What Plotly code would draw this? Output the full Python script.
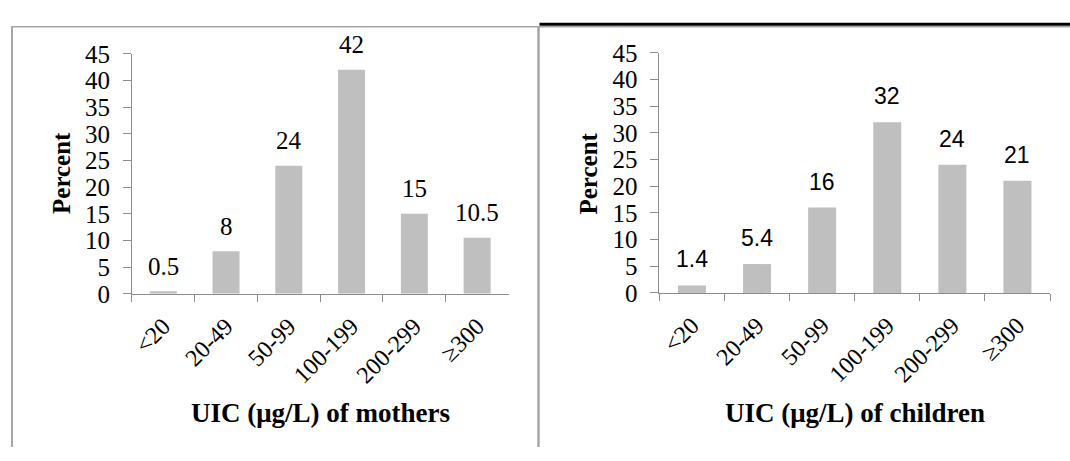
import plotly.graph_objects as go

categories = ["<20", "20-49", "50-99", "100-199", "200-299", "≥300"]
mothers = [0.5, 8, 24, 42, 15, 10.5]
children = [1.4, 5.4, 16, 32, 24, 21]
y_ticks = [0, 5, 10, 15, 20, 25, 30, 35, 40, 45]
x_title_left = "UIC (μg/L) of mothers"
x_title_right = "UIC (μg/L) of children"
y_title = "Percent"

W, H = 1070, 461
def px(x):
    return x / W
def py(y):
    return 1 - y / H

SERIF = "Liberation Serif, Times New Roman, serif"
SANS = "Liberation Sans, Arial, sans-serif"
BAR = "#BFBFBF"
AXIS = "#8C8C8C"
BORDER = "#A6A6A6"

fig = go.Figure()
fig.add_trace(go.Bar(x=categories, y=mothers, xaxis="x", yaxis="y",
                     marker=dict(color=BAR, line=dict(width=0)), width=0.43,
                     showlegend=False, hoverinfo="skip"))
fig.add_trace(go.Bar(x=categories, y=children, xaxis="x2", yaxis="y2",
                     marker=dict(color=BAR, line=dict(width=0)), width=0.43,
                     showlegend=False, hoverinfo="skip"))

tickfont = dict(family=SERIF, size=25, color="black")
catfont = dict(family=SERIF, size=24, color="black")

def xax(domain, anchor):
    return dict(domain=domain, anchor=anchor, type="category", tickson="boundaries",
                ticks="outside", ticklen=7, tickcolor=AXIS, showline=True,
                linecolor=AXIS, linewidth=1, tickangle=-45, tickfont=catfont,
                showgrid=False, zeroline=False, fixedrange=True, ticklabelstandoff=8)

def yax(domain, anchor):
    return dict(domain=domain, anchor=anchor, range=[0, 45], tickvals=y_ticks,
                ticks="outside", ticklen=8, tickcolor=AXIS, showline=True,
                linecolor=AXIS, linewidth=1, tickfont=tickfont, showgrid=False,
                zeroline=False, ticklabelstandoff=8, fixedrange=True)

fig.update_layout(
    width=W, height=H, margin=dict(l=0, r=0, t=0, b=0),
    paper_bgcolor="white", plot_bgcolor="white",
    xaxis=xax([px(131), px(508)], "y"),
    yaxis=yax([py(298.3), py(43.3)], "x"),
    xaxis2=xax([px(659), px(1050)], "y2"),
    yaxis2=yax([py(297.3), py(42.3)], "x2"),
    bargap=0.57,
)

anns = []
for c, v in zip(categories, mothers):
    anns.append(dict(x=c, y=v, xref="x", yref="y", text=str(v), showarrow=False,
                     yanchor="middle", yshift=25, font=dict(family=SERIF, size=25, color="black")))
for c, v in zip(categories, children):
    anns.append(dict(x=c, y=v, xref="x2", yref="y2", text=str(v), showarrow=False,
                     yanchor="middle", yshift=26, font=dict(family=SANS, size=23, color="black")))
title_font = dict(family=SERIF, size=25, color="black")
xtitle_font = dict(family=SERIF, size=27, color="black")
anns.append(dict(x=px(60), y=py(170), xref="paper", yref="paper", text="<b>%s</b>" % y_title,
                 textangle=-90, showarrow=False, xanchor="center", yanchor="middle", font=title_font))
anns.append(dict(x=px(588), y=py(170), xref="paper", yref="paper", text="<b>%s</b>" % y_title,
                 textangle=-90, showarrow=False, xanchor="center", yanchor="middle", font=title_font))
anns.append(dict(x=px(319.5), y=py(425), xref="paper", yref="paper", text="<b>%s</b>" % x_title_left,
                 showarrow=False, xanchor="center", yanchor="middle", font=xtitle_font))
anns.append(dict(x=px(854.5), y=py(425), xref="paper", yref="paper", text="<b>%s</b>" % x_title_right,
                 showarrow=False, xanchor="center", yanchor="middle", font=xtitle_font))
fig.update_layout(annotations=anns)

shapes = [
    dict(type="line", xref="paper", yref="paper", x0=px(11), x1=px(11), y0=py(14), y1=py(461),
         line=dict(color=BORDER, width=2)),
    dict(type="line", xref="paper", yref="paper", x0=px(11), x1=px(1070), y0=py(14.5), y1=py(14.5),
         line=dict(color=BORDER, width=1.5)),
    dict(type="line", xref="paper", yref="paper", x0=px(538), x1=px(538), y0=py(14), y1=py(461),
         line=dict(color=BORDER, width=2.5)),
    dict(type="line", xref="paper", yref="paper", x0=px(539), x1=px(1070), y0=py(12), y1=py(12),
         line=dict(color="black", width=3)),
]
fig.update_layout(shapes=shapes)

post = ("document.documentElement.style.margin='0';document.documentElement.style.padding='0';"
        "document.documentElement.style.overflow='hidden';document.documentElement.style.height='461px';"
        "document.body.style.margin='0';document.body.style.padding='0';"
        "document.body.style.overflow='hidden';document.body.style.height='461px';")
fig.write_html("out.html", config={"displayModeBar": False, "staticPlot": True}, post_script=post)
